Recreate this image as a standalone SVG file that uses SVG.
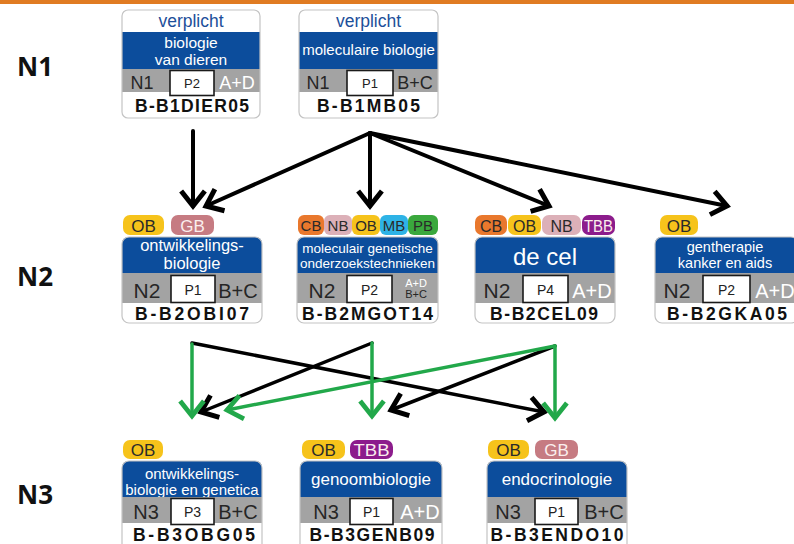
<svg xmlns="http://www.w3.org/2000/svg" width="794" height="544" viewBox="0 0 794 544">
  <defs>
    <style>
      text{font-family:"Liberation Sans",Arial,sans-serif}
      .frame{fill:none;stroke:#c4c4c4;stroke-width:1.2}
      .bg{fill:#fff}
      .blue{fill:#0c4d9c}
      .gray{fill:#a3a3a3}
      .pbox{fill:#fff;stroke:#1a1a1a;stroke-width:1.6}
      .title{fill:#fff;text-anchor:middle}
      .lvl{fill:#262626;text-anchor:middle}
      .wlab{fill:#fff;text-anchor:middle}
      .plab{fill:#222;text-anchor:middle}
      .code{font-weight:bold;fill:#111;text-anchor:middle;font-size:17.5px}
      .req{fill:#1d4f9a;text-anchor:middle;font-size:17.5px}
      .level{font-family:"Open Sans",sans-serif;font-weight:bold;font-size:26px;fill:#111}
      .bdg text{text-anchor:middle}
      .ob{fill:#f6c31b}.gb{fill:#c67b82}.cb{fill:#e9782d}.nb{fill:#dcb0b8}
      .mb{fill:#2eb3e6}.pb{fill:#3aa83d}.tbb{fill:#8c1c8c}
      .dk{fill:#2a2a2a}.lt{fill:#fbeeee}
      .ka{fill:none;stroke:#000;stroke-width:4;stroke-linecap:round}
      .kb{fill:none;stroke:#000;stroke-width:3.5;stroke-linecap:round}
      .gn{fill:none;stroke:#22a84a;stroke-width:3.5;stroke-linecap:round}
    </style>
    <marker id="headK" markerUnits="userSpaceOnUse" markerWidth="30" markerHeight="30" viewBox="-16 -12 20 24" refX="0" refY="0" orient="auto">
      <path d="M-12,-9.5 L0,0 L-12,9.5" fill="none" stroke="#000" stroke-width="4" stroke-linejoin="miter"/>
    </marker>
    <marker id="headG" markerUnits="userSpaceOnUse" markerWidth="30" markerHeight="30" viewBox="-16 -12 20 24" refX="0" refY="0" orient="auto">
      <path d="M-12,-9.5 L0,0 L-12,9.5" fill="none" stroke="#22a84a" stroke-width="3.8" stroke-linejoin="miter"/>
    </marker>
  </defs>

  <rect width="794" height="544" fill="#fff"/>
  <rect x="0" y="0" width="794" height="4" fill="#e07b22"/>

  <!-- level labels -->
  <text class="level" x="17" y="76">N1</text>
  <text class="level" x="17" y="286">N2</text>
  <text class="level" x="17" y="504">N3</text>

  <!-- ===== level 1 ===== -->
  <g id="B-B1DIER05">
    <rect class="bg" x="122" y="10" width="138" height="108" rx="6"/>
    <text class="req" x="191" y="27">verplicht</text>
    <rect class="blue" x="122" y="32" width="138" height="37"/>
    <text class="title" x="191" y="48" font-size="15.5">biologie</text>
    <text class="title" x="191" y="64.5" font-size="15.5">van dieren</text>
    <rect class="gray" x="122" y="69" width="138" height="23"/>
    <text class="lvl" x="142" y="89" font-size="18">N1</text>
    <rect class="pbox" x="170" y="70.5" width="44" height="25"/>
    <text class="plab" x="192" y="88" font-size="13">P2</text>
    <text class="wlab" x="237" y="89" font-size="18">A+D</text>
    <text class="code" x="192" y="112" textLength="114" lengthAdjust="spacing">B-B1DIER05</text>
    <rect class="frame" x="122" y="10" width="138" height="108" rx="6"/>
  </g>

  <g id="B-B1MB05">
    <rect class="bg" x="299" y="10" width="139" height="108" rx="6"/>
    <text class="req" x="368.5" y="27">verplicht</text>
    <rect class="blue" x="299" y="32" width="139" height="37"/>
    <text class="title" x="368.5" y="55" font-size="15">moleculaire biologie</text>
    <rect class="gray" x="299" y="69" width="139" height="23"/>
    <text class="lvl" x="318" y="89" font-size="18">N1</text>
    <rect class="pbox" x="347" y="70.5" width="46" height="25"/>
    <text class="plab" x="370" y="88" font-size="13">P1</text>
    <text class="lvl" x="415" y="89" font-size="18">B+C</text>
    <text class="code" x="368.5" y="112" textLength="103" lengthAdjust="spacing">B-B1MB05</text>
    <rect class="frame" x="299" y="10" width="139" height="108" rx="6"/>
  </g>

  <!-- ===== level 2 ===== -->
  <g id="B-B2OBI07">
    <g class="bdg">
      <rect class="ob" x="123" y="215" width="41" height="20" rx="7"/>
      <text class="dk" x="143.5" y="232" font-size="17">OB</text>
      <rect class="gb" x="171" y="215" width="43" height="20" rx="7"/>
      <text class="lt" x="192.5" y="232" font-size="17">GB</text>
    </g>
    <rect class="bg" x="122" y="237" width="140" height="86" rx="7"/>
    <path class="blue" d="M122,244 Q122,237 129,237 H255 Q262,237 262,244 V273 H122 Z"/>
    <text class="title" x="192" y="251" font-size="16.5">ontwikkelings-</text>
    <text class="title" x="192" y="269" font-size="16.5">biologie</text>
    <rect class="gray" x="122" y="273" width="140" height="30"/>
    <text class="lvl" x="147" y="298" font-size="21">N2</text>
    <rect class="pbox" x="171" y="275.5" width="44" height="27"/>
    <text class="plab" x="193" y="295" font-size="14">P1</text>
    <text class="lvl" x="238" y="298" font-size="20">B+C</text>
    <text class="code" x="192" y="319.5" textLength="114" lengthAdjust="spacing">B-B2OBI07</text>
    <rect class="frame" x="122" y="237" width="140" height="86" rx="7"/>
  </g>

  <g id="B-B2MGOT14">
    <g class="bdg" font-size="15">
      <rect class="cb" x="298" y="215" width="26" height="20" rx="6"/>
      <text class="dk" x="311" y="231">CB</text>
      <rect class="nb" x="324" y="215" width="28" height="20" rx="6"/>
      <text class="dk" x="338" y="231">NB</text>
      <rect class="ob" x="352" y="215" width="28" height="20" rx="6"/>
      <text class="dk" x="366" y="231">OB</text>
      <rect class="mb" x="380" y="215" width="28" height="20" rx="6"/>
      <text class="dk" x="394" y="231">MB</text>
      <rect class="pb" x="408" y="215" width="30" height="20" rx="6"/>
      <text class="dk" x="423" y="231">PB</text>
    </g>
    <rect class="bg" x="297" y="237" width="141" height="86" rx="7"/>
    <path class="blue" d="M297,244 Q297,237 304,237 H431 Q438,237 438,244 V273 H297 Z"/>
    <text class="title" x="367.5" y="252.5" font-size="13.5">moleculair genetische</text>
    <text class="title" x="367.5" y="268" font-size="13.5">onderzoekstechnieken</text>
    <rect class="gray" x="297" y="273" width="141" height="30"/>
    <text class="lvl" x="322" y="298" font-size="21">N2</text>
    <rect class="pbox" x="347" y="275.5" width="45" height="27"/>
    <text class="plab" x="369.5" y="295" font-size="14">P2</text>
    <text class="wlab" x="416" y="287" font-size="11">A+D</text>
    <text class="lvl" x="416" y="298" font-size="11">B+C</text>
    <text class="code" x="367.5" y="319.5" textLength="131" lengthAdjust="spacing">B-B2MGOT14</text>
    <rect class="frame" x="297" y="237" width="141" height="86" rx="7"/>
  </g>

  <g id="B-B2CEL09">
    <g class="bdg" font-size="16">
      <rect class="cb" x="475" y="215" width="32" height="20" rx="7"/>
      <text class="dk" x="491" y="231.5">CB</text>
      <rect class="ob" x="508" y="215" width="33" height="20" rx="7"/>
      <text class="dk" x="524.5" y="231.5">OB</text>
      <rect class="nb" x="542" y="215" width="39" height="20" rx="7"/>
      <text class="dk" x="561.5" y="231.5">NB</text>
      <rect class="tbb" x="582" y="215" width="33" height="20" rx="7"/>
      <text class="lt" x="598.5" y="231.5" textLength="29" lengthAdjust="spacingAndGlyphs">TBB</text>
    </g>
    <rect class="bg" x="475" y="237" width="140" height="86" rx="7"/>
    <path class="blue" d="M475,244 Q475,237 482,237 H608 Q615,237 615,244 V273 H475 Z"/>
    <text class="title" x="545" y="265" font-size="24">de cel</text>
    <rect class="gray" x="475" y="273" width="140" height="30"/>
    <text class="lvl" x="497" y="298" font-size="21">N2</text>
    <rect class="pbox" x="523" y="275.5" width="45" height="27"/>
    <text class="plab" x="545.5" y="295" font-size="14">P4</text>
    <text class="wlab" x="592" y="298" font-size="20">A+D</text>
    <text class="code" x="544" y="319.5" textLength="108" lengthAdjust="spacing">B-B2CEL09</text>
    <rect class="frame" x="475" y="237" width="140" height="86" rx="7"/>
  </g>

  <g id="B-B2GKA05">
    <g class="bdg">
      <rect class="ob" x="660" y="215" width="38" height="20" rx="7"/>
      <text class="dk" x="679" y="232" font-size="17">OB</text>
    </g>
    <rect class="bg" x="655" y="237" width="143" height="86" rx="7"/>
    <path class="blue" d="M655,244 Q655,237 662,237 H791 Q798,237 798,244 V273 H655 Z"/>
    <text class="title" x="725" y="252" font-size="14.5">gentherapie</text>
    <text class="title" x="725" y="268" font-size="14.5">kanker en aids</text>
    <rect class="gray" x="655" y="273" width="143" height="30"/>
    <text class="lvl" x="677" y="298" font-size="21">N2</text>
    <rect class="pbox" x="703" y="275.5" width="47" height="27"/>
    <text class="plab" x="726.5" y="295" font-size="14">P2</text>
    <text class="wlab" x="775" y="298" font-size="20">A+D</text>
    <text class="code" x="727" y="319.5" textLength="120" lengthAdjust="spacing">B-B2GKA05</text>
    <rect class="frame" x="655" y="237" width="143" height="86" rx="7"/>
  </g>

  <!-- ===== level 3 ===== -->
  <g id="B-B3OBG05">
    <g class="bdg">
      <rect class="ob" x="123" y="440" width="40" height="19" rx="7"/>
      <text class="dk" x="143" y="456" font-size="17">OB</text>
    </g>
    <rect class="bg" x="122" y="461" width="140" height="90" rx="7"/>
    <path class="blue" d="M122,468 Q122,461 129,461 H255 Q262,461 262,468 V497 H122 Z"/>
    <text class="title" x="192" y="478.5" font-size="15">ontwikkelings-</text>
    <text class="title" x="192" y="494.5" font-size="15">biologie en genetica</text>
    <rect class="gray" x="122" y="497" width="140" height="26"/>
    <text class="lvl" x="146" y="519" font-size="20">N3</text>
    <rect class="pbox" x="171" y="498.5" width="43" height="26"/>
    <text class="plab" x="192.5" y="517" font-size="14">P3</text>
    <text class="lvl" x="238" y="519" font-size="20">B+C</text>
    <text class="code" x="194" y="540.5" textLength="122" lengthAdjust="spacing">B-B3OBG05</text>
    <rect class="frame" x="122" y="461" width="140" height="90" rx="7"/>
  </g>

  <g id="B-B3GENB09">
    <g class="bdg">
      <rect class="ob" x="302" y="440" width="43" height="19" rx="7"/>
      <text class="dk" x="323.5" y="456" font-size="17">OB</text>
      <rect class="tbb" x="350" y="440" width="43" height="19" rx="7"/>
      <text class="lt" x="371.5" y="456" font-size="17" textLength="36" lengthAdjust="spacingAndGlyphs">TBB</text>
    </g>
    <rect class="bg" x="300" y="461" width="142" height="90" rx="7"/>
    <path class="blue" d="M300,468 Q300,461 307,461 H435 Q442,461 442,468 V497 H300 Z"/>
    <text class="title" x="371" y="485" font-size="17">genoombiologie</text>
    <rect class="gray" x="300" y="497" width="142" height="26"/>
    <text class="lvl" x="326" y="519" font-size="20">N3</text>
    <rect class="pbox" x="350" y="498.5" width="43" height="26"/>
    <text class="plab" x="371.5" y="517" font-size="14">P1</text>
    <text class="wlab" x="420" y="519" font-size="20">A+D</text>
    <text class="code" x="372" y="540.5" textLength="125" lengthAdjust="spacing">B-B3GENB09</text>
    <rect class="frame" x="300" y="461" width="142" height="90" rx="7"/>
  </g>

  <g id="B-B3ENDO10">
    <g class="bdg">
      <rect class="ob" x="488" y="440" width="41" height="19" rx="7"/>
      <text class="dk" x="508.5" y="456" font-size="17">OB</text>
      <rect class="gb" x="535" y="440" width="43" height="19" rx="7"/>
      <text class="lt" x="556.5" y="456" font-size="17">GB</text>
    </g>
    <rect class="bg" x="487" y="461" width="140" height="90" rx="7"/>
    <path class="blue" d="M487,468 Q487,461 494,461 H620 Q627,461 627,468 V497 H487 Z"/>
    <text class="title" x="557" y="485" font-size="17">endocrinologie</text>
    <rect class="gray" x="487" y="497" width="140" height="26"/>
    <text class="lvl" x="508" y="519" font-size="20">N3</text>
    <rect class="pbox" x="535" y="498.5" width="43" height="26"/>
    <text class="plab" x="556.5" y="517" font-size="14">P1</text>
    <text class="lvl" x="604" y="519" font-size="20">B+C</text>
    <text class="code" x="557" y="540.5" textLength="133" lengthAdjust="spacing">B-B3ENDO10</text>
    <rect class="frame" x="487" y="461" width="140" height="90" rx="7"/>
  </g>

  <!-- ===== connectors ===== -->
  <g id="connectors">
    <!-- level 1 to level 2 -->
    <line class="ka" x1="193" y1="131" x2="193" y2="206" marker-end="url(#headK)"/>
    <line class="ka" x1="370" y1="133" x2="206" y2="206" marker-end="url(#headK)"/>
    <line class="ka" x1="370" y1="133" x2="370" y2="206" marker-end="url(#headK)"/>
    <line class="ka" x1="370" y1="133" x2="549" y2="206" marker-end="url(#headK)"/>
    <line class="ka" x1="370" y1="133" x2="727" y2="206" marker-end="url(#headK)"/>
    <!-- level 2 to level 3, black -->
    <line class="kb" x1="192" y1="343" x2="544" y2="412" marker-end="url(#headK)"/>
    <line class="kb" x1="372" y1="343" x2="201" y2="412" marker-end="url(#headK)"/>
    <line class="kb" x1="555" y1="346" x2="391" y2="410" marker-end="url(#headK)"/>
    <!-- level 2 to level 3, green -->
    <line class="gn" x1="192" y1="344" x2="192" y2="416" marker-end="url(#headG)"/>
    <line class="gn" x1="372" y1="343" x2="372" y2="416" marker-end="url(#headG)"/>
    <line class="gn" x1="555" y1="346" x2="555" y2="418" marker-end="url(#headG)"/>
    <line class="gn" x1="555" y1="346" x2="227" y2="410" marker-end="url(#headG)"/>
  </g>
</svg>
